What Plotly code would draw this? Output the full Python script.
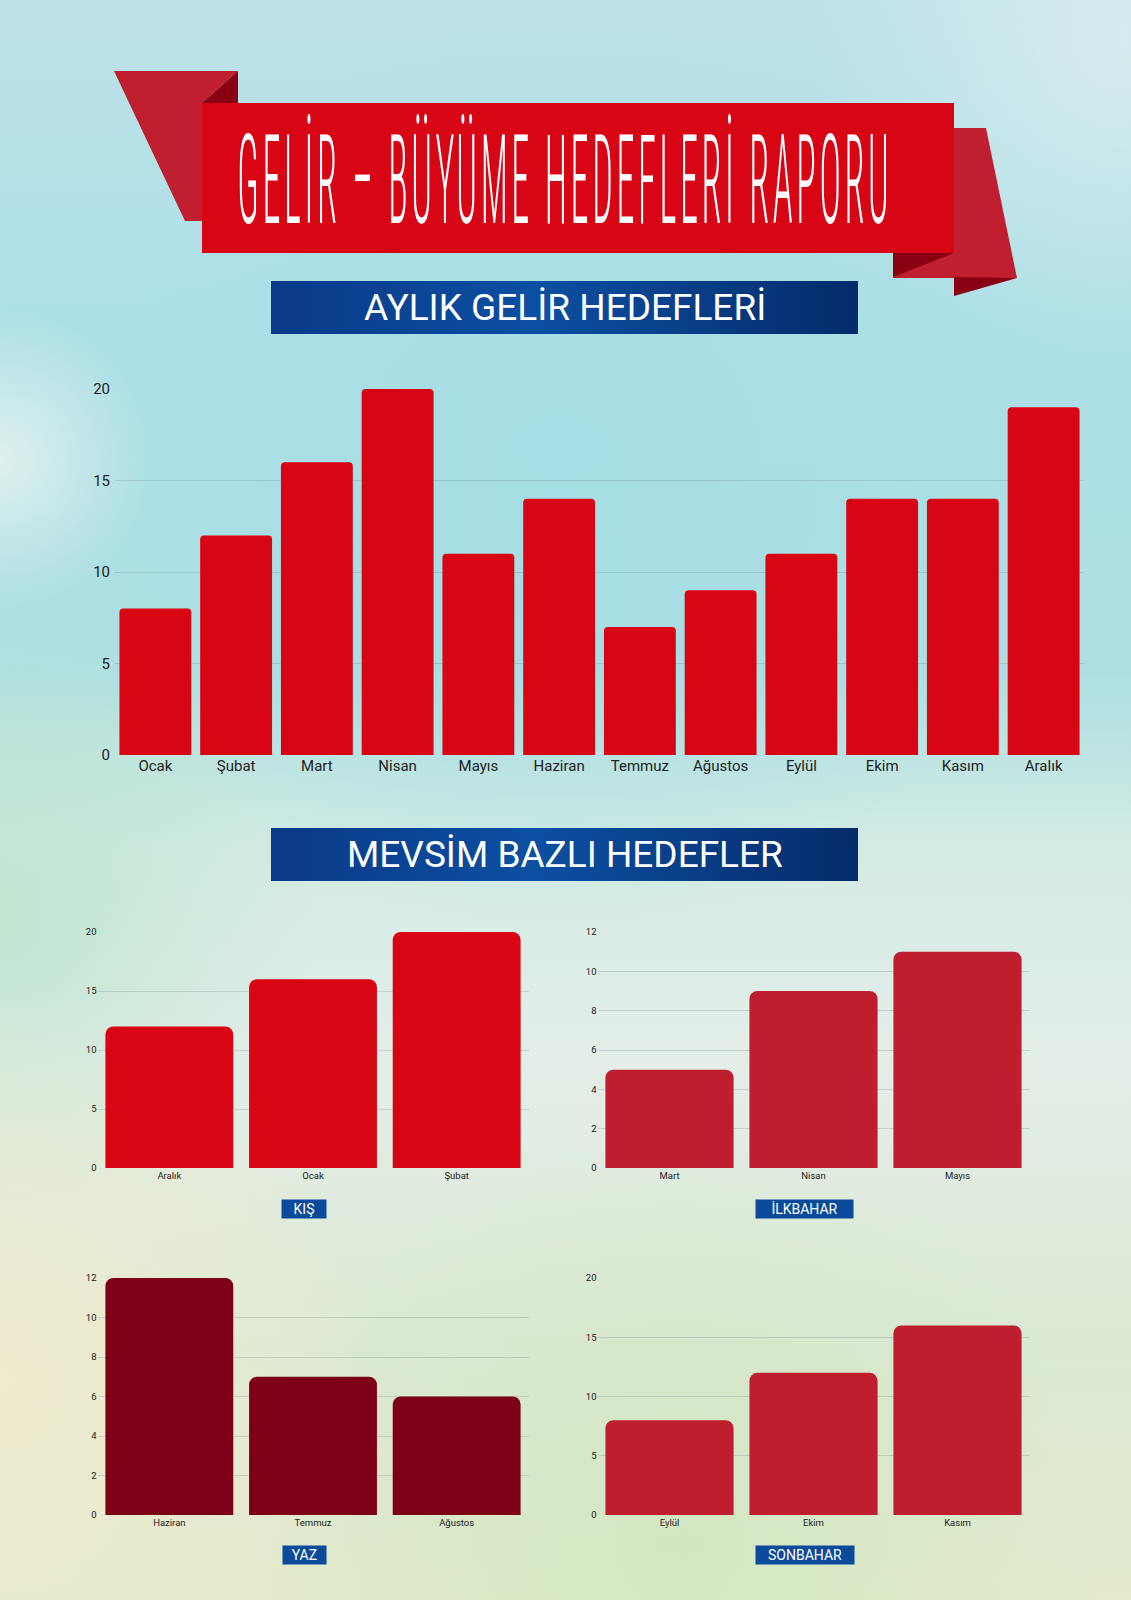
import base64
import plotly.graph_objects as go

# aylik gelir hedefleri
months = ['Ocak', 'Şubat', 'Mart', 'Nisan', 'Mayıs', 'Haziran',
          'Temmuz', 'Ağustos', 'Eylül', 'Ekim', 'Kasım', 'Aralık']
monthly_target = [8, 12, 16, 20, 11, 14, 7, 9, 11, 14, 14, 19]

# mevsim bazli hedefler
winter_months = ['Aralık', 'Ocak', 'Şubat']
winter_target = [12, 16, 20]
spring_months = ['Mart', 'Nisan', 'Mayıs']
spring_target = [5, 9, 11]
summer_months = ['Haziran', 'Temmuz', 'Ağustos']
summer_target = [12, 7, 6]
autumn_months = ['Eylül', 'Ekim', 'Kasım']
autumn_target = [8, 12, 16]

W, H = 1131, 1600
FONT = 'Roboto, Noto Sans, sans-serif'


def px(x):
    return x / W


def py(y):
    return 1 - y / H


def poly(points, color):
    path = 'M ' + ' L '.join('%.5f,%.5f' % (px(x), py(y)) for x, y in points) + ' Z'
    return dict(type='path', xref='paper', yref='paper', path=path,
                fillcolor=color, line=dict(width=0), layer='below')


# watercolour-ish background as an svg image
bg_svg = '''<svg xmlns="http://www.w3.org/2000/svg" width="1131" height="1600" viewBox="0 0 1131 1600" preserveAspectRatio="none">
<defs>
<linearGradient id="bg" x1="0" y1="0" x2="0" y2="1">
<stop offset="0" stop-color="#bde2e8"/>
<stop offset="0.2" stop-color="#ade0e6"/>
<stop offset="0.42" stop-color="#addfe2"/>
<stop offset="0.53" stop-color="#d3ebe4"/>
<stop offset="0.66" stop-color="#e4eee9"/>
<stop offset="0.84" stop-color="#dbe9d3"/>
<stop offset="1" stop-color="#e3eacd"/>
</linearGradient>
<radialGradient id="b1" gradientUnits="userSpaceOnUse" cx="0" cy="460" r="150">
<stop offset="0" stop-color="#eef5f2" stop-opacity="0.75"/><stop offset="1" stop-color="#eef5f2" stop-opacity="0"/></radialGradient>
<radialGradient id="b2" gradientUnits="userSpaceOnUse" cx="0" cy="920" r="320">
<stop offset="0" stop-color="#bfe5cf" stop-opacity="0.9"/><stop offset="1" stop-color="#bfe5cf" stop-opacity="0"/></radialGradient>
<radialGradient id="b3" gradientUnits="userSpaceOnUse" cx="0" cy="1380" r="380">
<stop offset="0" stop-color="#f2ebcf" stop-opacity="0.95"/><stop offset="1" stop-color="#f2ebcf" stop-opacity="0"/></radialGradient>
<radialGradient id="b4" gradientUnits="userSpaceOnUse" cx="680" cy="1560" r="420">
<stop offset="0" stop-color="#cfe6bf" stop-opacity="0.8"/><stop offset="1" stop-color="#cfe6bf" stop-opacity="0"/></radialGradient>
<radialGradient id="b5" gradientUnits="userSpaceOnUse" cx="1131" cy="40" r="320">
<stop offset="0" stop-color="#e2eff1" stop-opacity="0.7"/><stop offset="1" stop-color="#e2eff1" stop-opacity="0"/></radialGradient>
<radialGradient id="b6" gradientUnits="userSpaceOnUse" cx="560" cy="480" r="460">
<stop offset="0" stop-color="#9fdde4" stop-opacity="0.6"/><stop offset="1" stop-color="#9fdde4" stop-opacity="0"/></radialGradient>
<linearGradient id="hb" x1="0" y1="0" x2="1" y2="0">
<stop offset="0" stop-color="#0a3987"/>
<stop offset="0.45" stop-color="#0c4fa2"/>
<stop offset="1" stop-color="#052b69"/>
</linearGradient>
</defs>
<rect width="1131" height="1600" fill="url(#bg)"/>
<rect width="1131" height="1600" fill="url(#b6)"/>
<rect width="1131" height="1600" fill="url(#b1)"/>
<rect width="1131" height="1600" fill="url(#b2)"/>
<rect width="1131" height="1600" fill="url(#b3)"/>
<rect width="1131" height="1600" fill="url(#b4)"/>
<rect width="1131" height="1600" fill="url(#b5)"/>
<rect x="271" y="281" width="587" height="53" fill="url(#hb)"/>
<rect x="271" y="828" width="587" height="53" fill="url(#hb)"/>
</svg>'''
bg_uri = 'data:image/svg+xml;base64,' + base64.b64encode(bg_svg.encode('utf-8')).decode('ascii')

fig = go.Figure()

fig.add_trace(go.Bar(x=months, y=monthly_target, xaxis='x', yaxis='y',
                     marker=dict(color='#d80515', cornerradius=4, line=dict(width=0))))
fig.add_trace(go.Bar(x=winter_months, y=winter_target, xaxis='x2', yaxis='y2',
                     marker=dict(color='#d80515', cornerradius=8, line=dict(width=0))))
fig.add_trace(go.Bar(x=spring_months, y=spring_target, xaxis='x3', yaxis='y3',
                     marker=dict(color='#be1e2e', cornerradius=8, line=dict(width=0))))
fig.add_trace(go.Bar(x=summer_months, y=summer_target, xaxis='x4', yaxis='y4',
                     marker=dict(color='#7e0016', cornerradius=8, line=dict(width=0))))
fig.add_trace(go.Bar(x=autumn_months, y=autumn_target, xaxis='x5', yaxis='y5',
                     marker=dict(color='#be1e2e', cornerradius=8, line=dict(width=0))))

grid = 'rgba(110,140,140,0.28)'


def xax(x0, x1, anchor, size):
    return dict(domain=[px(x0), px(x1)], anchor=anchor, showgrid=False, zeroline=False,
                showline=False, ticks='', tickfont=dict(family=FONT, size=size, color='#222'))


def yax(y0, y1, anchor, top, step, size, standoff):
    return dict(domain=[py(y1), py(y0)], anchor=anchor, range=[0, top], dtick=step,
                showgrid=True, gridcolor=grid, gridwidth=1, zeroline=False, showline=False,
                ticks='', ticklabelstandoff=standoff,
                tickfont=dict(family=FONT, size=size, color='#222'))


fig.update_layout(
    width=W, height=H,
    margin=dict(l=0, r=0, t=0, b=0, autoexpand=False),
    paper_bgcolor='#cfe8ea',
    plot_bgcolor='rgba(0,0,0,0)',
    showlegend=False,
    bargap=0.11,
    font=dict(family=FONT),
    xaxis=xax(115, 1084, 'y', 15),
    yaxis=yax(389, 755, 'x', 20, 5, 15, 4),
    xaxis2=xax(97.5, 528.5, 'y2', 9.5),
    yaxis2=yax(932, 1168, 'x2', 20, 5, 9.5, 0),
    xaxis3=xax(597.5, 1029.5, 'y3', 9.5),
    yaxis3=yax(932, 1168, 'x3', 12, 2, 9.5, 0),
    xaxis4=xax(97.5, 528.5, 'y4', 9.5),
    yaxis4=yax(1278, 1515, 'x4', 12, 2, 9.5, 0),
    xaxis5=xax(597.5, 1029.5, 'y5', 9.5),
    yaxis5=yax(1278, 1515, 'x5', 20, 5, 9.5, 0),
    images=[dict(source=bg_uri, xref='paper', yref='paper', x=0, y=1, sizex=1, sizey=1,
                 sizing='stretch', xanchor='left', yanchor='top', layer='below')],
)

# kurdele
ribbon_light = '#c01f2f'
ribbon_dark = '#8a0013'
shapes = [
    poly([(114, 71), (238, 71), (202, 103), (202, 221), (185, 221)], ribbon_light),
    poly([(202, 103), (238, 71), (238, 103)], ribbon_dark),
    poly([(954, 128), (986, 128), (1017, 278), (893, 278), (893, 253), (954, 253)], ribbon_light),
    poly([(893, 253), (954, 253), (893, 277)], ribbon_dark),
    poly([(954, 277), (1017, 278), (954, 296)], ribbon_dark),
    poly([(202, 103), (954, 103), (954, 253), (202, 253)], '#d80515'),
]
fig.update_layout(shapes=shapes)

TITLE_FS = 40
fig.add_annotation(text='GELİR – BÜYÜME HEDEFLERİ RAPORU', xref='paper', yref='paper',
                   x=px(565), y=py(181), xanchor='center', yanchor='middle', showarrow=False,
                   font=dict(family='Roboto Condensed, Roboto, sans-serif', weight=300,
                             size=TITLE_FS, color='white'))

for txt, cy in [('AYLIK GELİR HEDEFLERİ', 307.5), ('MEVSİM BAZLI HEDEFLER', 854.5)]:
    fig.add_annotation(text=txt, xref='paper', yref='paper', x=px(564.5), y=py(cy),
                       xanchor='center', yanchor='middle', showarrow=False,
                       font=dict(family=FONT, size=37, color='white'))

for txt, cx, cy, w in [('KIŞ', 304, 1209, 44), ('İLKBAHAR', 804.5, 1208.5, 97),
                       ('YAZ', 304.5, 1554.5, 43), ('SONBAHAR', 805, 1555, 98)]:
    fig.add_annotation(text=txt, xref='paper', yref='paper', x=px(cx), y=py(cy),
                       xanchor='center', yanchor='middle', showarrow=False,
                       width=w, height=18, bgcolor='#0a4a9a', borderpad=0,
                       font=dict(family=FONT, size=14, color='white'))

# sayfa kenar boslugunu kaldir, basligi dar ve uzun yazi gibi esnet
stretch = '''
document.documentElement.style.margin = '0';
document.documentElement.style.overflow = 'hidden';
document.body.style.margin = '0';
document.body.style.overflow = 'hidden';
document.querySelectorAll('text.annotation-text').forEach(function(t) {
  if (t.textContent.indexOf('RAPORU') < 0) return;
  t.style.letterSpacing = '4px';
  var b = t.getBBox();
  var sx = 655 / b.width, sy = 88 / (0.711 * %d);
  var cx = b.x + b.width / 2, cy = b.y + b.height / 2;
  t.setAttribute('transform', 'translate(' + cx + ',' + cy + ') scale(' + sx + ',' + sy + ') translate(' + (-cx) + ',' + (-cy) + ')');
});
''' % TITLE_FS

fig.write_html('out.html', post_script=stretch, config={'displayModeBar': False})
